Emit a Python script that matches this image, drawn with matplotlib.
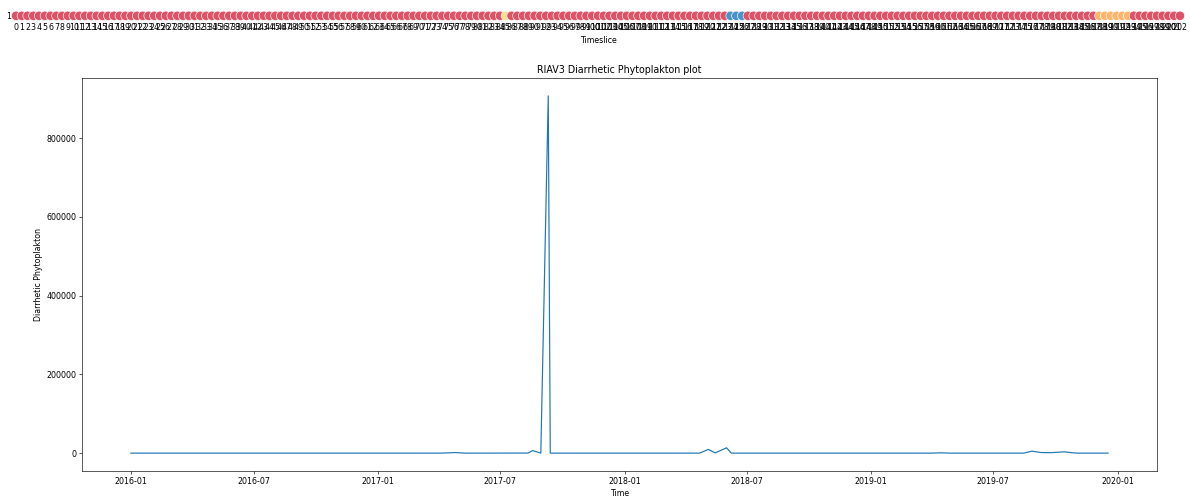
import numpy as np
import pandas as pd
import matplotlib
matplotlib.use("Agg")
import matplotlib.pyplot as plt

# ---- sampling dates (RIAV3 station) ----
dates_a = pd.date_range("2016-01-01", "2017-08-11", periods=83)
dates_event_a = pd.to_datetime(["2017-08-18", "2017-08-30", "2017-09-10", "2017-09-13"])
dates_b = pd.date_range("2017-09-20", "2018-04-22", periods=37)
dates_event_b = pd.to_datetime(["2018-05-05", "2018-05-15", "2018-06-01"])
dates_c = pd.date_range("2018-06-08", "2019-08-15", periods=61)
dates_event_c = pd.to_datetime(["2019-08-27", "2019-09-10", "2019-09-24",
                                "2019-10-05", "2019-10-14", "2019-10-27"])
dates_d = pd.date_range("2019-11-03", "2019-12-18", periods=9)

# ---- diarrhetic phytoplankton counts ----
values_a = [
    0, 0, 120, 0, 0, 0, 80, 0, 0, 0,
    0, 240, 0, 0, 0, 0, 0, 160, 0, 0,
    0, 0, 0, 0, 0, 0, 80, 0, 0, 0,
    0, 0, 0, 0, 0, 120, 0, 0, 0, 0,
    0, 0, 0, 0, 0, 0, 0, 0, 0, 0,
    0, 0, 0, 0, 0, 0, 0, 0, 0, 0,
    0, 0, 0, 0, 0, 400, 900, 1500, 700, 0,
    0, 0, 0, 0, 0, 0, 0, 0, 0, 0,
    0, 0, 200,
]
values_event_a = [6500, 0, 907000, 0]
values_b = [
    0, 0, 0, 0, 0, 0, 0, 0, 0, 0,
    0, 0, 0, 0, 80, 0, 0, 0, 0, 0,
    0, 0, 0, 0, 0, 0, 0, 0, 0, 0,
    0, 0, 0, 0, 0, 0, 0,
]
values_event_b = [9400, 600, 13500]
values_c = [
    0, 0, 0, 0, 0, 0, 0, 0, 0, 0,
    0, 0, 0, 0, 0, 0, 0, 0, 0, 0,
    0, 0, 0, 0, 0, 0, 0, 0, 0, 0,
    0, 0, 0, 0, 0, 0, 0, 0, 0, 0,
    0, 0, 300, 800, 300, 0, 0, 0, 0, 0,
    0, 0, 0, 0, 0, 0, 0, 0, 0, 0,
    0,
]
values_event_c = [5000, 1500, 1200, 2500, 3300, 800]
values_d = [0, 0, 0, 0, 0, 0, 0, 0, 0]

dates = dates_a.append([dates_event_a, dates_b, dates_event_b,
                        dates_c, dates_event_c, dates_d])
values = (values_a + values_event_a + values_b + values_event_b
          + values_c + values_event_c + values_d)

# ---- cluster assigned to each timeslice ----
clusters = [0] * 85 + [1] + [0] * 38 + [2] * 3 + [0] * 61 + [3] * 6 + [0] * 9
cluster_colors = ["#dc5266", "#fde08c", "#4a93c6", "#fdb46c"]

timeslices = np.arange(len(clusters))

fig = plt.figure(figsize=(1190 / 57, 496 / 57), dpi=57)

# cluster strip
ax_strip = fig.add_axes([14 / 1190, 1 - 20 / 496, 1168 / 1190, 8.4 / 496])
ax_strip.scatter(timeslices, np.ones(len(clusters)),
                 c=[cluster_colors[k] for k in clusters],
                 s=140, edgecolors="white", linewidths=0.8, clip_on=False)
ax_strip.set_xlim(-0.35, len(clusters) - 1 + 0.35)
ax_strip.set_ylim(0.5, 1.5)
ax_strip.set_yticks([1])
ax_strip.set_xticks(timeslices)
ax_strip.set_xticklabels([str(t) for t in timeslices])
ax_strip.tick_params(length=0)
for sp in ax_strip.spines.values():
    sp.set_visible(False)
ax_strip.set_xlabel("Timeslice", labelpad=5)

# time series
ax = fig.add_axes([82 / 1190, 1 - 471 / 496, 1075 / 1190, 393 / 496])
ax.plot(dates, values, color="#1f77b4", linewidth=1.5)
ax.set_title("RIAV3 Diarrhetic Phytoplakton plot")
ax.set_xlabel("Time")
ax.set_ylabel("Diarrhetic Phytoplakton")

fig.savefig("out.png", dpi=57)
